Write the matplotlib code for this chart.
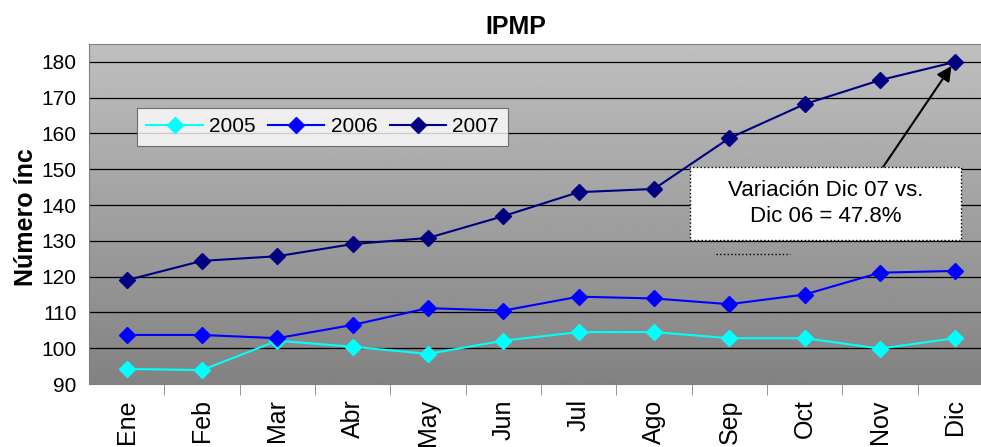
import matplotlib.pyplot as plt
from matplotlib.patches import Rectangle
import numpy as np

plt.rcParams['font.family'] = ['Liberation Sans', 'DejaVu Sans']

meses = ['Ene', 'Feb', 'Mar', 'Abr', 'May', 'Jun', 'Jul', 'Ago', 'Sep', 'Oct', 'Nov', 'Dic']
ipmp_2005 = [94.2, 93.9, 102.1, 100.4, 98.4, 102.1, 104.5, 104.5, 102.8, 102.8, 99.9, 102.8]
ipmp_2006 = [103.7, 103.7, 102.8, 106.5, 111.2, 110.5, 114.4, 113.9, 112.3, 115.0, 121.1, 121.6]
ipmp_2007 = [119.0, 124.4, 125.7, 129.1, 130.8, 136.9, 143.6, 144.5, 158.7, 168.2, 174.9, 180.0]

fig = plt.figure(figsize=(9.81, 4.47), dpi=100)
W, H = 981, 447
ax = fig.add_axes([89 / W, 1 - 384 / H, (993 - 89) / W, (384 - 44) / H])

x = np.arange(len(meses))
ax.set_xlim(-0.5, len(meses) - 0.5)
ax.set_ylim(90, 185)

# gray gradient background
grad = np.linspace(0.51, 0.75, 256).reshape(-1, 1)
ax.imshow(grad, cmap='gray', vmin=0, vmax=1, aspect='auto', origin='lower',
          extent=[-0.5, len(meses) - 0.5, 90, 185], zorder=0)

for yv in range(100, 181, 10):
    ax.axhline(yv, color='black', lw=0.9, zorder=1)

series = [(ipmp_2005, '#00ffff', '2005'), (ipmp_2006, '#0000ff', '2006'), (ipmp_2007, '#000080', '2007')]
for vals, col, lab in series:
    ax.plot(x, vals, color=col, lw=1.5, marker='D', ms=8.5, label=lab, zorder=3)

fs = 15
ax.set_yticks(range(90, 181, 10))
ax.tick_params(axis='y', length=0, labelsize=fs, pad=9)
ax.set_xticks(x)
ax.set_xticklabels(meses, rotation=90, fontsize=18)
ax.set_xticks(x[:-1] + 0.5, minor=True)
ax.tick_params(axis='x', which='major', length=0, pad=11)
ax.tick_params(axis='x', which='minor', length=8, color='#808080')
ax.spines['right'].set_visible(False)
for s in ['left', 'bottom', 'top']:
    ax.spines[s].set_color('#808080')

fig.text(516 / W, 1 - 27 / H, 'IPMP', ha='center', va='center', fontsize=18, fontweight='bold')
fig.text(26 / W, 1 - 217 / H, 'Número ínc', rotation=90, ha='center', va='center',
         fontsize=18, fontweight='bold')

leg = ax.legend(loc='upper left', bbox_to_anchor=((137 - 89) / (993 - 89), 1 - (108 - 44) / 340),
                ncol=3, frameon=True, fancybox=False, fontsize=fs, handlelength=2.7,
                columnspacing=0.6, handletextpad=0.3, borderpad=0.45, borderaxespad=0)
leg.get_frame().set_edgecolor('#555555')
leg.get_frame().set_linewidth(0.8)

# annotation box with dotted border
ax.add_patch(Rectangle((7.48, 130.2), 11.08 - 7.48, 150.6 - 130.2, fc='white', ec='black',
                       ls=':', lw=1, zorder=5))
ax.text(9.28, 140.5, 'Variación Dic 07 vs.\nDic 06 = 47.8%', ha='center', va='center',
        fontsize=16, linespacing=1.3, zorder=6)
ax.annotate('', xy=(10.97, 179.5), xytext=(10.04, 150.6),
            arrowprops=dict(arrowstyle='-|>', color='black', lw=1.5, mutation_scale=22,
                            shrinkA=0, shrinkB=2), zorder=4)
ax.plot([7.82, 8.8], [126.3, 126.3], color='black', ls=':', lw=1, zorder=2)

fig.savefig('out.png', dpi=100)
